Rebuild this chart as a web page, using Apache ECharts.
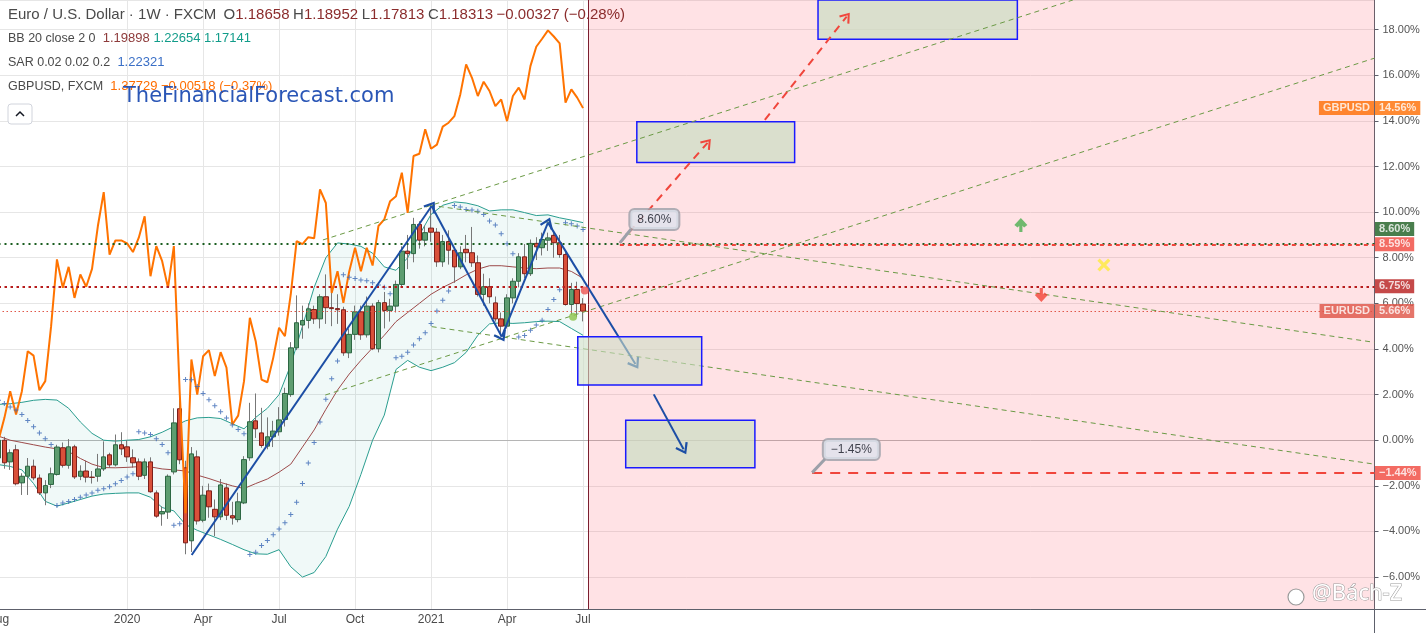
<!DOCTYPE html>
<html>
<head>
<meta charset="utf-8">
<title>Euro / U.S. Dollar 1W</title>
<script src="https://cdn.jsdelivr.net/npm/echarts@6.0.0/dist/echarts.min.js"></script>
<style>
  html, body { margin: 0; padding: 0; background: #ffffff; }
  #chart { width: 1426px; height: 633px; }
</style>
</head>
<body>
<div id="chart"></div>
<script>
// weekly EURUSD bars, bar 0 = week of 4 Aug 2019, percent scale (0% = close of bar 0)
var opens = [-0.78,0.00,-0.95,-0.42,-1.87,-1.58,-1.14,-1.66,-2.31,-1.94,
  -1.50,-0.33,-1.10,-0.29,-1.58,-1.35,-1.62,-1.58,-1.26,-0.64,
  -1.08,-0.20,-0.29,-0.77,-0.95,-1.54,-0.95,-2.31,-3.23,-3.15,
  -1.39,1.38,-1.21,-4.41,-0.73,-3.51,-2.22,-3.03,-3.36,-2.09,
  -3.31,-3.48,-2.75,-0.77,0.85,0.32,-0.26,0.15,0.37,0.91,
  2.00,4.05,5.05,5.25,5.73,5.32,6.29,5.81,5.77,5.72,
  3.83,4.64,5.63,4.62,5.88,4.01,6.03,5.69,5.88,6.83,
  8.29,8.18,9.46,8.77,9.30,9.12,7.82,8.71,8.33,7.60,
  8.37,8.22,7.78,6.39,6.73,6.02,5.32,5.00,6.24,6.97,
  8.04,7.30,8.63,8.44,8.77,8.98,8.66,8.14,5.95,6.61,
  5.97];
var closes = [0.00,-0.99,-0.55,-1.91,-1.58,-1.14,-1.65,-2.31,-1.99,-1.47,
  -0.30,-1.10,-0.29,-1.61,-1.36,-1.62,-1.63,-1.26,-0.73,-1.08,
  -0.20,-0.38,-0.73,-0.99,-1.58,-0.95,-2.26,-3.33,-3.13,-1.58,
  0.76,-0.86,-4.50,-0.60,-3.54,-2.41,-2.92,-3.36,-1.96,-3.29,
  -3.41,-2.70,-0.85,0.81,0.50,-0.23,0.15,0.40,0.89,2.05,
  4.05,5.15,5.25,5.76,5.32,6.29,5.81,5.77,5.72,3.83,
  4.64,5.63,4.62,5.88,4.01,6.03,5.69,5.88,6.83,8.29,
  8.18,9.46,8.77,9.10,9.12,7.82,8.71,8.33,7.60,8.22,
  8.22,7.78,6.39,6.73,6.29,5.32,5.00,6.24,6.97,8.04,
  7.30,8.63,8.48,8.80,8.87,8.66,8.14,5.95,6.61,5.99,
  5.66];
var lows = [-0.94,-1.25,-1.30,-1.98,-2.40,-2.40,-1.75,-2.40,-2.85,-2.10,
  -1.55,-1.20,-1.25,-1.70,-1.75,-1.85,-1.90,-1.82,-1.35,-1.20,
  -1.15,-0.65,-0.95,-1.20,-1.75,-1.70,-2.30,-3.40,-3.75,-3.45,
  -1.50,-1.05,-5.00,-4.90,-3.70,-3.60,-3.40,-4.20,-3.50,-3.50,
  -3.70,-3.60,-2.80,-0.90,0.10,-0.33,-0.40,-0.30,0.20,0.60,
  1.90,3.95,4.45,4.90,5.10,4.90,5.10,5.00,5.10,3.70,
  3.60,4.40,4.40,4.50,3.95,3.85,4.90,5.20,5.60,6.70,
  7.50,7.80,8.40,8.50,8.70,7.60,7.60,7.70,6.90,7.50,
  7.80,7.60,6.30,5.90,6.00,5.20,4.55,4.90,6.00,6.70,
  7.10,7.20,7.90,8.10,8.30,8.00,8.00,5.90,5.50,5.40,
  5.21];
var highs = [0.47,0.15,-0.40,-0.20,-1.45,-0.78,-0.85,-1.50,-1.75,-1.20,
  -0.20,-0.10,0.05,-0.20,-1.10,-0.90,-1.35,-0.60,-0.05,-0.55,
  0.25,0.35,0.00,-0.40,-0.80,-0.80,-0.75,-2.20,-2.90,-1.50,
  1.40,2.66,-0.90,-0.30,-0.45,-2.00,-1.90,-2.60,-1.70,-1.90,
  -2.70,-2.30,-0.70,1.64,2.05,1.42,1.00,0.85,1.45,2.30,
  4.30,6.35,5.90,6.00,5.90,6.40,7.27,6.60,6.40,5.85,
  4.90,5.90,5.90,6.30,6.00,6.15,6.50,6.20,7.00,8.50,
  9.00,9.75,9.60,9.40,10.28,9.30,9.00,9.20,8.40,8.50,
  9.00,9.35,8.10,7.30,7.10,6.30,5.60,6.40,7.10,8.20,
  8.60,8.80,8.90,9.10,9.10,9.10,9.00,8.30,6.90,6.95,
  6.23];

// GBPUSD weekly close, same percent scale
var gbpusd = [0.00,0.97,2.15,1.13,2.15,3.90,3.71,2.19,2.59,5.00,
  7.93,6.68,7.60,6.24,7.27,6.73,7.51,9.39,10.88,8.14,
  8.76,8.76,8.63,8.25,8.88,9.82,7.19,8.51,7.85,6.68,
  8.51,2.10,-3.20,3.54,2.00,3.68,3.95,2.81,3.86,3.18,
  0.69,1.08,2.59,5.37,4.34,2.66,2.54,3.61,4.93,4.56,
  6.40,8.73,8.60,8.90,8.85,11.00,10.40,6.46,7.41,6.02,
  7.40,8.44,7.41,8.44,7.66,9.39,9.68,10.48,10.70,11.73,
  9.97,12.46,12.56,13.63,12.78,12.96,13.75,13.92,14.21,15.16,
  16.48,15.89,15.09,15.72,15.31,14.65,14.94,13.99,15.09,15.46,
  14.94,16.40,17.25,17.60,17.97,17.70,17.40,14.80,15.38,15.02,
  14.56];

// parabolic SAR dots
var sar = [1.75,1.61,1.46,1.32,1.13,0.86,0.59,0.32,0.06,-0.19,
  -2.86,-2.75,-2.69,-2.60,-2.50,-2.40,-2.31,-2.19,-2.13,-2.04,
  -1.91,-1.77,-1.61,-1.47,0.37,0.32,0.25,0.06,-0.19,-0.55,
  -3.73,-3.66,2.66,2.65,2.36,2.05,1.77,1.51,1.25,0.97,
  0.67,0.47,0.28,-5.01,-4.91,-4.62,-4.40,-4.14,-3.89,-3.62,
  -3.26,-2.72,-1.90,-1.00,-0.10,0.80,1.80,2.69,3.47,7.25,
  7.15,7.09,7.02,6.99,6.90,6.80,6.71,6.42,3.61,3.68,
  3.86,4.17,4.45,4.71,5.12,5.66,6.14,6.54,10.29,10.22,
  10.12,10.09,10.04,9.90,9.61,9.43,9.05,8.61,8.18,4.53,
  4.59,4.82,5.05,5.26,5.73,6.17,6.60,9.53,9.49,9.39,
  9.24];

// Bollinger bands, read every second bar
var bbIdx = [];
for (var k = 0; k <= 100; k += 2) bbIdx.push(k);
var bbUpper = [1.57,1.60,1.66,1.75,1.79,1.76,1.40,0.80,0.30,0.00,
  -0.04,0.00,0.03,0.15,0.35,0.60,0.85,0.98,1.00,0.95,
  0.72,0.50,1.00,1.40,2.00,3.30,5.00,6.70,8.00,8.65,
  8.60,8.50,8.20,7.60,7.45,8.00,9.00,9.90,10.30,10.45,
  10.40,10.28,10.05,10.10,10.10,9.98,9.85,9.88,9.75,9.65,
  9.54];
var bbBasis = [0.18,0.00,-0.10,-0.20,-0.30,-0.38,-0.50,-0.80,-1.05,-1.20,
  -1.21,-1.19,-1.16,-1.17,-1.26,-1.30,-1.35,-1.53,-1.68,-1.85,
  -2.00,-2.12,-1.90,-1.70,-1.40,-1.05,-0.30,0.45,1.35,2.20,
  2.90,3.50,4.05,4.60,5.20,5.60,6.00,6.40,6.70,6.95,
  7.25,7.50,7.65,7.65,7.60,7.55,7.52,7.55,7.55,7.40,
  7.10];
var bbLower = [-1.07,-1.15,-1.30,-1.90,-2.68,-2.89,-2.75,-2.60,-2.45,-2.36,
  -2.33,-2.31,-2.31,-2.50,-2.95,-3.10,-3.70,-3.95,-4.15,-4.35,
  -4.57,-4.80,-4.98,-5.00,-4.80,-5.55,-6.00,-5.80,-5.10,-3.90,
  -2.90,-1.50,0.00,1.10,3.10,3.50,3.20,3.05,3.20,3.40,
  3.85,4.60,5.10,5.15,5.12,5.15,5.20,5.22,5.20,4.90,
  4.60];

// time axis labels (bar index of first bar in the period)
var xTickIdx = [0, 22, 35, 48, 61, 74, 87, 100];
var xTickText = ['Aug', '2020', 'Apr', 'Jul', 'Oct', '2021', 'Apr', 'Jul'];

// drawings, in [bar index, percent]
var zigzag = [[33.05, -5.03], [74.1, 10.27], [86.1, 4.54], [94.0, 9.54], [108.96, 3.34]];
var dropArrow = [[112.1, 2.01], [117.2, -0.40]];
var targetArrows = [[[106.3, 8.65], [121.3, 13.04]], [[131.1, 14.04], [145.1, 18.57]]];
var trendLines = [
  [[55.5, 8.78], [183.8, 19.30]],
  [[55.9, 1.98], [235.4, 16.75]],
  [[74.1, 4.98], [235.4, -1.05]],
  [[73.8, 10.31], [235.4, 4.29]]
];
var boxes = [[140.2, 19.40, 174.3, 17.58], [109.2, 13.96, 136.2, 12.18], [107.3, 0.87, 129.4, -1.21]];
var box3 = [99.1, 4.54, 120.3, 2.42];
var forecastStart = 100.85;
var levelHigh = 8.60, levelMid = 6.75, lastPrice = 5.66;
var targetLevel = { start: 106.3, value: 8.59 };
var stopLevel = { start: 139.2, value: -1.44 };
var callouts = [
  { at: [106.3, 8.65], tail: [108.2, 9.25], box: [112.2, 9.68], text: '8.60%' },
  { at: [139.2, -1.42], tail: [141.4, -0.82], box: [145.9, -0.41], text: '\u22121.45%' }
];
var upMark = [174.9, 9.43], downMark = [178.4, 6.37], crossMark = [189.1, 7.68];
var redDot = [100.3, 6.56], greenDot = [98.3, 5.41];

var tags = [
  { v: 14.56, text: '14.56%', bg: '#ff6d00', name: 'GBPUSD', dy: 0 },
  { v: 8.60, text: '8.60%', bg: '#1b5e20', dy: -15 },
  { v: 8.59, text: '8.59%', bg: '#f0463c', dy: 0 },
  { v: 6.75, text: '6.75%', bg: '#b71c1c', dy: 0 },
  { v: 5.66, text: '5.66%', bg: '#de5345', name: 'EURUSD', dy: 0 },
  { v: -1.44, text: '\u22121.44%', bg: '#f0463c', dy: 0 }
];

var X_MIN = 0, X_MAX = 235.4, Y_MIN = -7.40, Y_MAX = 19.30;

function pct(v) {
  return (v < 0 ? '\u2212' : '') + Math.abs(v).toFixed(2) + '%';
}

var chevron = 'path://M6,0 L12,9 L10.4,10.2 L6,3.4 L1.6,10.2 L0,9 Z';
var plusPath = 'path://M2,0 L3,0 L3,2 L5,2 L5,3 L3,3 L3,5 L2,5 L2,3 L0,3 L0,2 L2,2 Z';
var arrowPath = 'path://M7,0 L14,7 L10.5,9.5 L8.7,7.7 L8.7,14 L5.3,14 L5.3,7.7 L3.5,9.5 L0,7 Z';
var crossPath = 'path://M0,2.5 L2.5,0 L7,4.5 L11.5,0 L14,2.5 L9.5,7 L14,11.5 L11.5,14 L7,9.5 L2.5,14 L0,11.5 L4.5,7 Z';

var candleData = [], bodyData = [], sarData = [], gbpData = [];
for (var i = 0; i < closes.length; i++) {
  candleData.push([i, opens[i], closes[i], lows[i], highs[i]]);
  bodyData.push([i, opens[i], closes[i], Math.min(opens[i], closes[i]), Math.max(opens[i], closes[i])]);
  sarData.push([i, sar[i]]);
  gbpData.push([i, gbpusd[i]]);
}
var upperData = bbIdx.map(function (x, j) { return [x, bbUpper[j]]; });
var lowerData = bbIdx.map(function (x, j) { return [x, bbLower[j]]; });
var basisData = bbIdx.map(function (x, j) { return [x, bbBasis[j]]; });

// filled channel between the two bands
function bandFill(params, api) {
  var pts = [];
  for (var j = 0; j < bbIdx.length; j++) pts.push(api.coord([bbIdx[j], bbUpper[j]]));
  for (var j2 = bbIdx.length - 1; j2 >= 0; j2--) pts.push(api.coord([bbIdx[j2], bbLower[j2]]));
  return { type: 'polygon', shape: { points: pts }, style: { fill: 'rgba(38,166,154,0.07)' } };
}

function seg(a, b, style, endSymbol, size) {
  return [
    { coord: a, lineStyle: style, symbol: 'none' },
    { coord: b, symbol: endSymbol || 'none', symbolSize: size || 1 }
  ];
}

function helper(name, z, extra) {
  var s = {
    name: name, type: 'line', z: z, silent: true,
    data: [[X_MIN, Y_MIN]], symbol: 'none', lineStyle: { opacity: 0 }
  };
  for (var key in extra) s[key] = extra[key];
  return s;
}

function area(r, style) {
  return [{ coord: [r[0], r[1]], itemStyle: style }, { coord: [r[2], r[3]] }];
}

var blue = { color: '#1c4ea5', width: 2, type: 'solid' };
var red = { color: '#f0463c', width: 2, type: [8, 6] };
var greenDash = { color: '#6b9a45', width: 1, type: [5, 4] };
var boxStyle = { color: 'rgba(205,222,196,0.75)', borderColor: '#1a1aff', borderWidth: 1.5 };

var arrowLines = [];
for (var z = 0; z < zigzag.length - 1; z++) {
  arrowLines.push(seg(zigzag[z], zigzag[z + 1], blue, chevron, [14, 11]));
}
arrowLines.push(seg(dropArrow[0], dropArrow[1], blue, chevron, [14, 11]));
targetArrows.forEach(function (t) { arrowLines.push(seg(t[0], t[1], red, chevron, [13, 10])); });
callouts.forEach(function (c) {
  arrowLines.push(seg(c.at, c.tail, { color: '#9ca0a9', width: 3, type: 'solid' }));
});

var legendRich = {
  t: { fontSize: 15, color: '#4a4a4a' },
  k: { fontSize: 15, color: '#4a4a4a' },
  r: { fontSize: 15, color: '#8b2c2c' },
  g: { fontSize: 12.5, color: '#4a4a4a' },
  m: { fontSize: 13, color: '#8e3b3b' },
  c: { fontSize: 13, color: '#129c8a' },
  b: { fontSize: 13, color: '#3a6fc6' },
  o: { fontSize: 13, color: '#ff6d00' }
};
function legendRow(text, top) {
  return { text: text, left: 8, top: top, padding: 0,
    textStyle: { fontSize: 13, fontWeight: 'normal', color: '#4a4a4a', rich: legendRich } };
}

var chart = echarts.init(document.getElementById('chart'));

var option = {
  animation: false,
  backgroundColor: '#ffffff',
  textStyle: { fontFamily: 'Liberation Sans, Arial, sans-serif' },
  title: [
    legendRow('{t|Euro / U.S. Dollar \u00b7 1W \u00b7 FXCM}  {k|O}{r|1.18658} {k|H}{r|1.18952} {k|L}{r|1.17813} {k|C}{r|1.18313} {r|\u22120.00327 (\u22120.28%)}', 7),
    legendRow('{g|BB 20 close 2 0}  {m|1.19898} {c|1.22654} {c|1.17141}', 32),
    legendRow('{g|SAR 0.02 0.02 0.2}  {b|1.22321}', 56),
    legendRow('{g|GBPUSD, FXCM}  {o|1.37729 \u22120.00518 (\u22120.37%)}', 80),
    { text: 'TheFinancialForecast.com', left: 123, top: 86, padding: 0,
      textStyle: { fontFamily: 'DejaVu Sans', fontSize: 21, fontWeight: 'normal', color: 'rgba(24,72,176,0.92)' } },
    { text: '@B\u00e1ch-Z', left: 1312, top: 583, padding: 0,
      textStyle: { fontFamily: 'Noto Sans', fontSize: 22, fontWeight: 'normal', color: '#ffffff',
        textBorderColor: '#9a9a9a', textBorderWidth: 1 } }
  ],
  graphic: [
    { type: 'rect', shape: { x: 8, y: 104, width: 24, height: 20, r: 3 }, style: { fill: '#ffffff', stroke: '#d1d4dc', lineWidth: 1 }, z: 100 },
    { type: 'polyline', shape: { points: [[16, 116], [20, 112], [24, 116]] }, style: { stroke: '#131722', lineWidth: 1.5, fill: null }, z: 101 },
    { type: 'line', shape: { x1: 1374.5, y1: 609.5, x2: 1426, y2: 609.5 }, style: { stroke: '#5d606b', lineWidth: 1 } },
    { type: 'line', shape: { x1: 1374.5, y1: 609, x2: 1374.5, y2: 633 }, style: { stroke: '#5d606b', lineWidth: 1 } },
    { type: 'circle', shape: { cx: 1296, cy: 597, r: 8 }, style: { fill: '#ffffff', stroke: '#9a9a9a', lineWidth: 1.2 }, z: 100 }
  ],
  grid: { left: -1.5, right: 51.5, top: 0, bottom: 24, outerBoundsMode: 'none', containLabel: false },
  xAxis: {
    type: 'value', min: X_MIN, max: X_MAX,
    axisLine: { show: true, onZero: false, lineStyle: { color: '#5d606b' } },
    axisTick: { show: false, customValues: xTickIdx },
    axisLabel: {
      customValues: xTickIdx, color: '#4a4a4a', fontSize: 12, margin: 5,
      formatter: function (v) { var p = xTickIdx.indexOf(v); return p < 0 ? '' : xTickText[p]; }
    },
    splitLine: { show: true, lineStyle: { color: '#e6e6e6' } }
  },
  yAxis: {
    type: 'value', position: 'right', min: Y_MIN, max: Y_MAX, splitNumber: 13,
    axisLine: { show: true, onZero: false, lineStyle: { color: '#5d606b' } },
    axisTick: { show: true, length: 4, lineStyle: { color: '#5d606b' } },
    axisLabel: { color: '#555555', fontSize: 11, margin: 8, showMinLabel: false, showMaxLabel: false, formatter: pct },
    splitLine: { lineStyle: { color: '#e6e6e6' } }
  },
  series: [
    helper('zero', 0, {
      markLine: { z: 0, silent: true, symbol: 'none', label: { show: false },
        data: [{ yAxis: 0, lineStyle: { color: '#b5b5b5', width: 1, type: 'solid' } }] }
    }),
    helper('forecast zone', 1, {
      markArea: { z: 1, silent: true, label: { show: false },
        data: [area([forecastStart, Y_MAX, X_MAX, Y_MIN], { color: 'rgba(255,82,100,0.17)' })] }
    }),
    { name: 'BB fill', type: 'custom', z: 1, silent: true, data: [[0, 0]], renderItem: bandFill },
    { name: 'BB lower', type: 'line', z: 1, data: lowerData, symbol: 'none', silent: true,
      lineStyle: { color: '#2a9d8f', width: 1 } },
    { name: 'BB upper', type: 'line', z: 1, data: upperData, symbol: 'none', silent: true,
      lineStyle: { color: '#2a9d8f', width: 1 } },
    { name: 'wicks', type: 'candlestick', z: 2, data: candleData, barWidth: 1, silent: true,
      itemStyle: { color: '#777777', color0: '#777777', borderColor: '#777777', borderColor0: '#777777', borderWidth: 1 } },
    { name: 'EURUSD', type: 'candlestick', z: 3, data: bodyData, barWidth: 5, silent: true,
      itemStyle: { color: '#5d9d70', color0: '#d9503a', borderColor: '#2d6743', borderColor0: '#7d1f1a', borderWidth: 1 } },
    { name: 'BB basis', type: 'line', z: 3, data: basisData, symbol: 'none', silent: true,
      lineStyle: { color: '#9c4a4a', width: 1 } },
    { name: 'SAR', type: 'scatter', z: 4, data: sarData, symbol: plusPath, symbolSize: 5, silent: true,
      itemStyle: { color: '#3a68b5' } },
    { name: 'GBPUSD', type: 'line', z: 4, data: gbpData, symbol: 'none', silent: true,
      lineStyle: { color: '#ff7300', width: 2 } },
    helper('levels', 5, {
      markLine: { z: 5, silent: true, symbol: 'none', label: { show: false },
        data: [
          { yAxis: levelHigh, lineStyle: { color: '#1b5e20', width: 2, type: [2, 4] } },
          { yAxis: levelMid, lineStyle: { color: '#b71c1c', width: 2, type: [2.5, 3.5] } },
          { yAxis: lastPrice, lineStyle: { color: '#e0584a', width: 1, type: [1.5, 2.5] } },
          seg([targetLevel.start, targetLevel.value], [X_MAX, targetLevel.value], { color: '#f0463c', width: 2, type: [4, 4] }),
          seg([stopLevel.start, stopLevel.value], [X_MAX, stopLevel.value], { color: '#f0463c', width: 2, type: [10, 8] }),
          { xAxis: forecastStart, lineStyle: { color: '#7b1e2e', width: 1, type: 'solid' } }
        ] }
    }),
    helper('boxes', 5, {
      markArea: { z: 5, silent: true, label: { show: false },
        data: boxes.map(function (b) { return area(b, boxStyle); }) }
    }),
    helper('trend lines', 6, {
      markLine: { z: 6, silent: true, symbol: 'none', label: { show: false },
        data: trendLines.map(function (t) { return seg(t[0], t[1], greenDash); }) }
    }),
    helper('arrows', 7, {
      markLine: { z: 7, silent: true, symbol: 'none', label: { show: false }, data: arrowLines }
    }),
    helper('box 3', 8, {
      markArea: { z: 8, silent: true, label: { show: false },
        data: [area(box3, { color: 'rgba(205,222,196,0.6)', borderColor: '#1a1aff', borderWidth: 1.5 })] }
    }),
    { name: 'marks', type: 'scatter', z: 9, silent: true,
      data: [
        { value: upMark, symbol: arrowPath, symbolSize: [13, 14], itemStyle: { color: '#4caf50' } },
        { value: downMark, symbol: arrowPath, symbolSize: [13, 14], symbolRotate: 180, itemStyle: { color: '#f44336' } },
        { value: crossMark, symbol: crossPath, symbolSize: 13, itemStyle: { color: '#ffeb3b' } },
        { value: redDot, symbol: 'circle', symbolSize: 8, itemStyle: { color: '#ef5350' } },
        { value: greenDot, symbol: 'circle', symbolSize: 8, itemStyle: { color: '#8bc34a' } }
      ] },
    { name: 'callouts', type: 'scatter', z: 9, silent: true, symbolSize: 1, itemStyle: { color: 'transparent' },
      data: callouts.map(function (c) {
        return { value: c.box, label: { show: true, position: 'inside', formatter: c.text, color: '#131722', fontSize: 12,
          backgroundColor: '#dfe3ee', borderColor: '#9ca0a9', borderWidth: 2, borderRadius: 4, padding: [4, 7, 3, 7] } };
      }) },
    { name: 'tags', type: 'scatter', z: 10, silent: true, clip: false, symbolSize: 1, itemStyle: { color: 'transparent' },
      data: tags.map(function (t) {
        return { value: [X_MAX, t.v], label: { show: true, position: 'right', distance: 0, offset: [0, t.dy],
          formatter: t.text, backgroundColor: t.bg, color: '#ffffff', fontSize: 11, fontWeight: 'bold', padding: [2, 4, 1, 4] } };
      }).concat(tags.filter(function (t) { return t.name; }).map(function (t) {
        return { value: [X_MAX, t.v], label: { show: true, position: 'left', distance: 0,
          formatter: t.name, backgroundColor: t.bg, color: '#ffffff', fontSize: 11, fontWeight: 'bold', padding: [2, 4, 1, 4] } };
      })) }
  ]
};

chart.setOption(option);
</script>
</body>
</html>
